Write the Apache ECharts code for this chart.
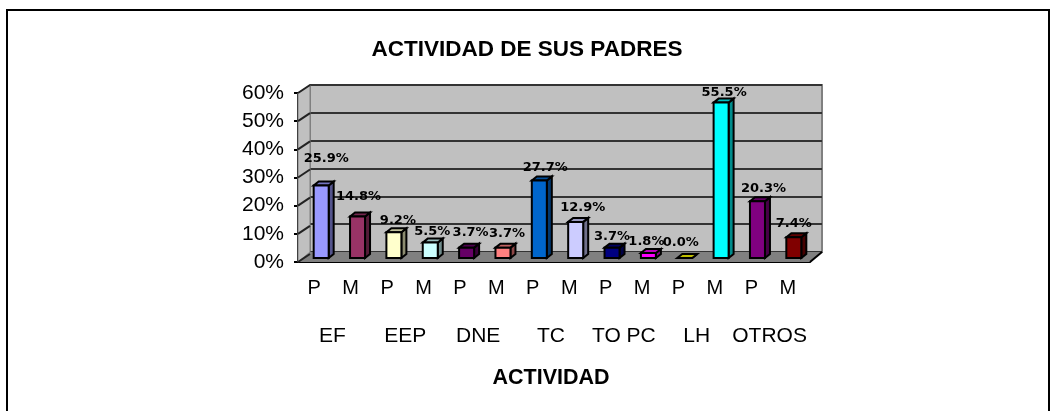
<!DOCTYPE html>
<html>
<head>
<meta charset="utf-8">
<style>
  html, body { margin: 0; padding: 0; background: #fff; }
  #chart { width: 1050px; height: 411px; }
</style>
<script src="https://cdn.jsdelivr.net/npm/echarts@6/dist/echarts.min.js"></script>
</head>
<body>
<div id="chart"></div>
<script>
// valores
const parents = ['P', 'M', 'P', 'M', 'P', 'M', 'P', 'M', 'P', 'M', 'P', 'M', 'P', 'M']
const groups = ['EF', 'EEP', 'DNE', 'TC', 'TO PC', 'LH', 'OTROS']
const values = [25.9, 14.8, 9.2, 5.5, 3.7, 3.7, 27.7, 12.9, 3.7, 1.8, 0.0, 55.5, 20.3, 7.4]
const ticks = [0, 10, 20, 30, 40, 50, 60]
const barColors = ['#9999ff', '#993366', '#ffffcc', '#ccffff', '#660066', '#ff8080', '#0066cc',
  '#ccccff', '#000080', '#ff00ff', '#ffff00', '#00ffff', '#800080', '#800000']
// desplazamiento de cada etiqueta respecto a su barra
const labelDx = [5, 1, 4, 2, 4, 4, 6, 7, 0, -2, -4, 3, 6, 0]
const labelDy = [-27, -20, -12, -11, -15, -14, -13, -14, -11, -11, -15, -10, -13, -14]

const FONT = '"Liberation Sans", Arial, sans-serif'
const DEPTH_X = 12
const DEPTH_Y = 10

// oscurece un color para las caras laterales de la barra
const shade = (hex, f) => {
  const n = parseInt(hex.slice(1), 16)
  const c = s => Math.round(((n >> s) & 255) * f)
  return `rgb(${c(16)},${c(8)},${c(0)})`
}

const hiddenAxis = (type, gridIndex, extra) => Object.assign({
  type, gridIndex,
  axisLine: { show: false },
  axisTick: { show: false },
  axisLabel: { show: false },
  splitLine: { show: false }
}, extra)

const valueRange = { min: 0, max: 60, interval: 10 }

const option = {
  animation: false,
  backgroundColor: '#fff',
  title: {
    text: 'ACTIVIDAD DE SUS PADRES',
    left: 522,
    top: 33,
    textAlign: 'center',
    textStyle: { fontFamily: FONT, fontSize: 22.5, fontWeight: 'bold', color: '#000' }
  },
  grid: [
    // pared del fondo
    { left: 310, top: 85, width: 512, height: 167, show: true, backgroundColor: '#c0c0c0', borderColor: '#808080', borderWidth: 2 },
    // plano frontal (eje de valores)
    { left: 298, top: 93, width: 512, height: 169 },
    // plano de las barras
    { left: 303, top: 90, width: 509, height: 168 },
    // etiquetas de categorias
    { left: 296, top: 93, width: 510, height: 169 }
  ],
  xAxis: [
    hiddenAxis('category', 0, { data: parents }),
    hiddenAxis('category', 1, {
      data: parents,
      axisLine: { show: true, lineStyle: { color: '#000', width: 2 } }
    }),
    hiddenAxis('category', 2, { data: parents }),
    hiddenAxis('category', 3, {
      data: parents,
      axisLabel: { show: true, interval: 0, margin: 16, fontFamily: FONT, fontSize: 20, color: '#000' }
    }),
    hiddenAxis('category', 3, {
      data: groups,
      position: 'bottom',
      offset: 49,
      axisLabel: { show: true, interval: 0, margin: 15, fontFamily: FONT, fontSize: 21, color: '#000' },
      name: 'ACTIVIDAD',
      nameLocation: 'middle',
      nameGap: 56,
      nameTextStyle: { fontFamily: FONT, fontSize: 21.5, fontWeight: 'bold', color: '#000' }
    })
  ],
  yAxis: [
    hiddenAxis('value', 0, Object.assign({
      splitLine: { show: true, lineStyle: { color: '#333', width: 2 } }
    }, valueRange)),
    Object.assign({
      type: 'value',
      gridIndex: 1,
      axisLine: { show: true, lineStyle: { color: '#000', width: 2 } },
      axisTick: { show: true, length: 4, lineStyle: { color: '#000', width: 2 } },
      axisLabel: { margin: 14, formatter: '{value}%', fontFamily: FONT, fontSize: 21, color: '#000' },
      splitLine: { show: false }
    }, valueRange),
    hiddenAxis('value', 2, valueRange),
    hiddenAxis('value', 3, valueRange)
  ],
  series: [
    // pared lateral y piso
    {
      type: 'custom',
      xAxisIndex: 1,
      yAxisIndex: 1,
      z: 1,
      clip: false,
      silent: true,
      data: [[0, 0]],
      renderItem: (params) => {
        const r = params.coordSys
        const bottom = r.y + r.height
        return {
          type: 'group',
          children: [
            {
              type: 'polygon',
              shape: { points: [[r.x, r.y], [r.x + DEPTH_X, r.y - 8], [r.x + DEPTH_X, bottom - DEPTH_Y], [r.x, bottom]] },
              style: { fill: '#c0c0c0', stroke: '#808080', lineWidth: 1 }
            },
            {
              type: 'polygon',
              shape: { points: [[r.x, bottom], [r.x + DEPTH_X, bottom - DEPTH_Y], [r.x + r.width + DEPTH_X, bottom - DEPTH_Y], [r.x + r.width, bottom]] },
              style: { fill: '#808080' }
            },
            {
              type: 'line',
              shape: { x1: r.x + r.width, y1: bottom, x2: r.x + r.width + DEPTH_X, y2: bottom - DEPTH_Y },
              style: { stroke: '#000', lineWidth: 2 }
            }
          ]
        }
      }
    },
    // diagonales de la pared lateral
    {
      type: 'custom',
      xAxisIndex: 1,
      yAxisIndex: 1,
      z: 2,
      clip: false,
      silent: true,
      data: ticks.map(t => [0, t]),
      renderItem: (params, api) => {
        const y = api.coord([0, api.value(1)])[1]
        const x = params.coordSys.x
        return {
          type: 'line',
          shape: { x1: x, y1: y, x2: x + DEPTH_X, y2: y - 8 },
          style: { stroke: '#222', lineWidth: 2 }
        }
      }
    },
    // barras en 3D con su etiqueta
    {
      type: 'custom',
      xAxisIndex: 2,
      yAxisIndex: 2,
      z: 5,
      clip: false,
      data: values.map((v, i) => [i, v]),
      renderItem: (params, api) => {
        const i = api.value(0)
        const top = api.coord([i, api.value(1)])
        const base = api.coord([i, 0])
        const half = 7.5
        const dx = 5
        const dy = 4
        const l = top[0] - half
        const r = top[0] + half
        const color = barColors[i]
        const edge = { stroke: '#000', lineWidth: 2 }
        return {
          type: 'group',
          children: [
            {
              type: 'polygon',
              shape: { points: [[r, top[1]], [r + dx, top[1] - dy], [r + dx, base[1] - dy], [r, base[1]]] },
              style: Object.assign({ fill: shade(color, 0.55) }, edge)
            },
            {
              type: 'polygon',
              shape: { points: [[l, top[1]], [l + dx, top[1] - dy], [r + dx, top[1] - dy], [r, top[1]]] },
              style: Object.assign({ fill: shade(color, 0.75) }, edge)
            },
            {
              type: 'rect',
              shape: { x: l, y: top[1], width: r - l, height: base[1] - top[1] },
              style: Object.assign({ fill: color }, edge)
            },
            {
              type: 'text',
              z2: 10,
              style: {
                text: api.value(1).toFixed(1) + '%',
                x: top[0] + labelDx[i],
                y: top[1] + labelDy[i],
                align: 'center',
                verticalAlign: 'middle',
                fill: '#000',
                font: 'bold 13px "DejaVu Sans", sans-serif'
              }
            }
          ]
        }
      }
    }
  ],
  // marco de la imagen (sin borde inferior)
  graphic: [
    { type: 'polyline', shape: { points: [[7, 411], [7, 10], [1049, 10], [1049, 411]] }, style: { fill: 'none', stroke: '#000', lineWidth: 2 }, silent: true }
  ]
}

const myChart = echarts.init(document.getElementById('chart'), null, { renderer: 'canvas' })
myChart.setOption(option)
</script>
</body>
</html>
